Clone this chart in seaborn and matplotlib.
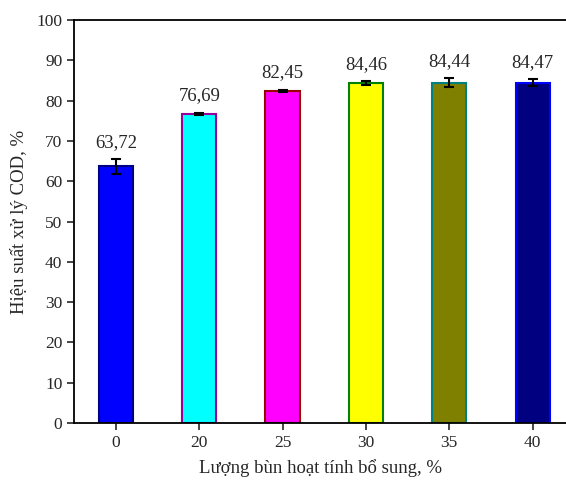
import matplotlib
matplotlib.use("Agg")
import matplotlib.pyplot as plt
import seaborn as sns
import pandas as pd
import numpy as np

categories = ["0", "20", "25", "30", "35", "40"]
values = [63.72, 76.69, 82.45, 84.46, 84.44, 84.47]
errors = [1.8, 0.35, 0.3, 0.45, 1.1, 0.9]
labels = ["63,72", "76,69", "82,45", "84,46", "84,44", "84,47"]
fill_colors = ["#0000FF", "#00FFFF", "#FF00FF", "#FFFF00", "#808000", "#000080"]
edge_colors = ["#000080", "#990099", "#990000", "#008000", "#008080", "#0000FF"]

sns.set_style("ticks")
plt.rcParams["font.family"] = ["Liberation Serif", "DejaVu Serif"]

df = pd.DataFrame({"cat": categories, "val": values})

fig = plt.figure(figsize=(5.66, 4.8), dpi=100)
ax = fig.add_axes([0.131, 0.119, 0.869, 0.839])
sns.barplot(data=df, x="cat", y="val", hue="cat", palette=fill_colors,
            width=0.41, legend=False, ax=ax, errorbar=None, saturation=1)
for p, ec in zip(ax.patches, edge_colors):
    p.set_edgecolor(ec)
    p.set_linewidth(1.5)

x = np.arange(len(categories))
ax.errorbar(x, values, yerr=errors, fmt="none", ecolor="black",
            elinewidth=1.5, capsize=3.5, capthick=1.5)
for xi, v, e, lab in zip(x, values, errors, labels):
    ax.text(xi, v + max(e, 0.5) + 2.0, lab, ha="center", va="bottom", fontsize=13.5)

ax.set_ylim(0, 100)
ax.set_xlim(-0.5, 5.4)
ax.set_yticks(range(0, 101, 10))
ax.set_xlabel("Lượng bùn hoạt tính bổ sung, %", fontsize=13.5, labelpad=6)
ax.set_ylabel("Hiệu suất xử lý COD, %", fontsize=13.5, labelpad=6)
ax.tick_params(axis="both", labelsize=12.5, direction="out", length=5, width=1.2)
for s in ["left", "bottom", "top"]:
    ax.spines[s].set_visible(True)
    ax.spines[s].set_linewidth(1.3)
    ax.spines[s].set_color("black")
ax.spines["right"].set_visible(False)

fig.savefig("out.png", dpi=100)
